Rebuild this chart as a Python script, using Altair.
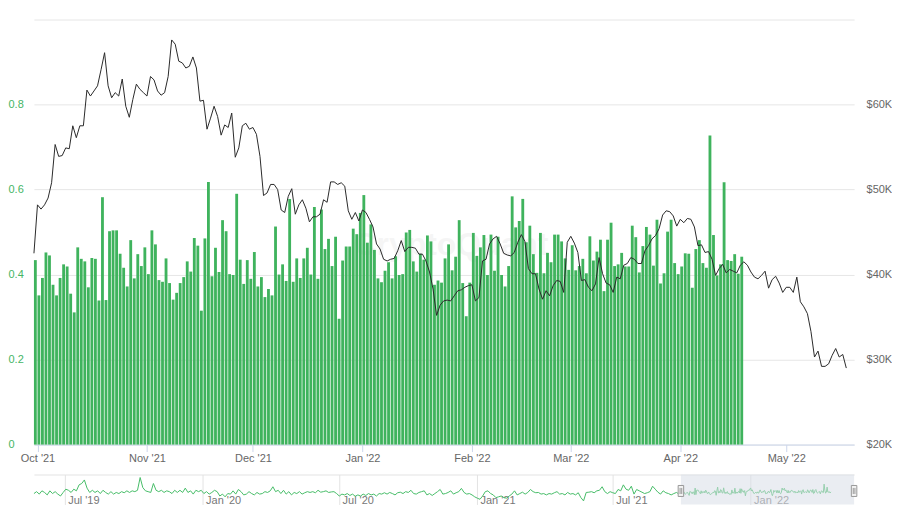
import altair as alt
import pandas as pd

# ---------------- data ----------------
bar_start = "2021-09-30"

# daily ratio (green bars, left axis)
ratio = [
    0.434, 0.351, 0.392, 0.452, 0.445, 0.376, 0.351, 0.392, 0.424, 0.419,
    0.355, 0.311, 0.464, 0.437, 0.431, 0.370, 0.439, 0.437, 0.339, 0.582,
    0.340, 0.502, 0.504, 0.504, 0.449, 0.416, 0.372, 0.481, 0.391, 0.448,
    0.420, 0.464, 0.401, 0.504, 0.471, 0.387, 0.383, 0.438, 0.380, 0.341,
    0.357, 0.380, 0.394, 0.431, 0.407, 0.486, 0.468,
    0.315, 0.485, 0.618, 0.396, 0.463, 0.406, 0.528, 0.502, 0.401, 0.399,
    0.590, 0.435, 0.378, 0.434, 0.390, 0.453, 0.372, 0.394, 0.347, 0.366,
    0.351, 0.513, 0.400, 0.424, 0.385, 0.578, 0.383, 0.438, 0.392, 0.438,
    0.463, 0.400, 0.559, 0.390, 0.553, 0.460, 0.484, 0.420, 0.489, 0.296,
    0.433, 0.466, 0.466, 0.508, 0.495, 0.545, 0.587,
    0.475, 0.518, 0.458, 0.391, 0.382, 0.409, 0.429, 0.391, 0.443, 0.399,
    0.401, 0.499, 0.505, 0.431, 0.407, 0.449, 0.435, 0.492, 0.478, 0.376,
    0.386, 0.381, 0.438, 0.471, 0.410, 0.442, 0.528, 0.380, 0.302, 0.381,
    0.498, 0.444, 0.464, 0.493, 0.399, 0.494, 0.409, 0.489, 0.399, 0.372,
    0.420, 0.584, 0.511, 0.526, 0.578, 0.476,
    0.515, 0.448, 0.404, 0.498, 0.403, 0.451, 0.429, 0.494, 0.494, 0.478,
    0.438, 0.411, 0.469, 0.410, 0.420, 0.437, 0.403, 0.490, 0.433, 0.454,
    0.482, 0.361, 0.482, 0.522, 0.420, 0.424, 0.451, 0.419, 0.419, 0.515,
    0.488, 0.405, 0.467, 0.512, 0.494, 0.421, 0.529, 0.379, 0.403, 0.501,
    0.529, 0.427, 0.401, 0.419, 0.450, 0.449,
    0.369, 0.460, 0.481, 0.427, 0.416, 0.727, 0.493, 0.398, 0.424, 0.617,
    0.434, 0.432, 0.448, 0.402, 0.442,
]

# daily BTC price in thousand USD (black line, right axis)
price_k = [
    42.5, 48.2, 47.7, 48.2, 49.0, 50.8, 55.3, 53.9, 54.0, 54.9,
    54.8, 57.5, 56.1, 57.5, 57.5, 61.7, 61.0, 61.6, 62.2, 64.1,
    66.1, 62.2, 60.8, 61.4, 61.0, 63.0, 59.8, 58.5, 60.6, 62.4,
    61.8, 61.4, 61.0, 63.3, 62.9, 61.6, 61.1, 61.4, 63.3, 67.6,
    67.1, 65.1, 64.9, 64.3, 64.5, 65.6, 64.3,
    60.4, 60.5, 57.1, 58.4, 59.8, 58.6, 56.4, 57.6, 57.3, 59.0,
    53.8, 54.9, 57.5, 57.8, 57.1, 57.3, 56.5, 53.9, 49.3, 49.6,
    50.6, 50.6, 50.0, 47.6, 47.3, 49.2, 50.1, 47.1, 48.2, 48.8,
    47.8, 46.2, 46.8, 46.8, 47.1, 48.8, 48.5, 50.9, 50.9, 50.6,
    50.8, 50.4, 47.5, 46.5, 47.3, 46.3, 47.6,
    47.3, 46.5, 45.6, 43.6, 43.0, 41.8, 41.6, 41.8, 41.9, 42.8,
    44.0, 42.7, 43.2, 43.2, 43.1, 42.4, 42.4, 41.6, 40.3, 38.3,
    35.2, 36.4, 36.9, 37.0, 36.9, 37.5, 38.1, 38.2, 38.5, 38.7,
    38.8, 36.9, 37.3, 41.6, 41.8, 43.6, 44.2, 44.5, 43.6, 42.5,
    42.3, 42.2, 42.6, 43.8, 44.7, 43.9, 40.7,
    40.1, 40.1, 38.3, 37.1, 38.1, 37.5, 38.7, 39.3, 39.2, 37.9,
    43.8, 44.5, 43.7, 42.6, 39.3, 39.4, 38.5, 38.1, 38.9, 42.0,
    40.1, 39.0, 38.8, 37.9, 39.7, 39.5, 41.1, 41.3, 42.0, 41.8,
    41.3, 41.3, 42.8, 43.4, 44.2, 44.6, 45.4, 47.0, 47.5, 47.4,
    46.9, 45.7, 46.5, 46.1, 46.6, 46.5,
    45.6, 43.4, 43.5, 42.6, 42.7, 41.8, 39.9, 40.7, 41.2, 40.2,
    40.6, 40.4, 40.2, 41.1, 41.5, 41.1, 40.3, 39.7, 39.5, 39.9,
    40.4, 38.4, 39.4, 39.8, 39.0, 37.9, 38.5, 38.5, 37.9, 39.7,
    36.8, 36.2, 35.4, 33.3, 30.3, 31.0, 29.2, 29.2, 29.5, 30.5,
    31.3, 30.3, 30.6, 29.0,
]

# navigator: earlier history of the ratio, one value every 85 hours
nav_start = "2019-05-21"
nav_ratio = [
    0.38, 0.45, 0.36, 0.48, 0.42, 0.33, 0.48, 0.38, 0.45, 0.36,
    0.29, 0.42, 0.54, 0.50, 0.42, 0.54, 0.48, 0.70, 0.75, 0.88,
    0.58, 0.42, 0.50, 0.42, 0.48, 0.38, 0.50, 0.42, 0.36, 0.45,
    0.36, 0.42, 0.38, 0.45, 0.41, 0.48, 0.42, 0.48, 0.45, 0.50,
    0.97, 0.60, 0.48, 0.45, 0.42, 0.75, 0.50, 0.45, 0.50, 0.42,
    0.48, 0.45, 0.38, 0.50, 0.42, 0.50, 0.42, 0.58, 0.42, 0.48,
    0.36, 0.50, 0.45, 0.50, 0.38, 0.45, 0.36, 0.42, 0.50, 0.45,
    0.29, 0.36, 0.26, 0.38, 0.36, 0.48, 0.36, 0.53, 0.45, 0.33,
    0.36, 0.45, 0.38, 0.33, 0.42, 0.36, 0.38, 0.45, 0.42, 0.48,
    0.63, 0.45, 0.50, 0.38, 0.50, 0.36, 0.45, 0.33, 0.42, 0.38,
    0.45, 0.36, 0.41, 0.45,
    0.42, 0.45, 0.41, 0.50, 0.43, 0.45, 0.48, 0.42, 0.44, 0.45,
    0.38, 0.29, 0.36, 0.33, 0.38, 0.31, 0.36, 0.28, 0.33, 0.29,
    0.36, 0.31, 0.38, 0.33, 0.36, 0.29, 0.38, 0.36, 0.41, 0.36,
    0.42, 0.38, 0.33, 0.41, 0.43, 0.38, 0.45, 0.42, 0.50, 0.38,
    0.36, 0.42, 0.45, 0.48, 0.33, 0.38, 0.31, 0.38, 0.45, 0.53,
    0.36, 0.38, 0.42, 0.48, 0.36, 0.41, 0.45, 0.57, 0.42, 0.36,
    0.38, 0.33, 0.26, 0.21, 0.17, 0.29, 0.45, 0.48, 0.38, 0.33,
    0.23, 0.26, 0.29, 0.23, 0.21, 0.29, 0.36, 0.48, 0.33, 0.38,
    0.43, 0.36, 0.42, 0.53, 0.45, 0.41, 0.42, 0.36, 0.38, 0.33,
    0.38, 0.36, 0.41, 0.45, 0.36, 0.38, 0.33, 0.42, 0.36, 0.38,
    0.33, 0.41, 0.23, 0.11,
    0.42, 0.43, 0.45, 0.41, 0.48, 0.50, 0.63, 0.45, 0.38, 0.45,
    0.41, 0.38, 0.53, 0.48, 0.70, 0.54, 0.50, 0.65, 0.36, 0.53,
    0.48, 0.43, 0.38, 0.41, 0.45, 0.65, 0.54, 0.43, 0.36, 0.48,
    0.41, 0.38, 0.33, 0.38, 0.42, 0.36,
]

month_ticks = [(2021, 10), (2021, 11), (2021, 12), (2022, 1),
               (2022, 2), (2022, 3), (2022, 4), (2022, 5)]
nav_ticks = [(2019, 7), (2020, 1), (2020, 7), (2021, 1), (2021, 7), (2022, 1)]
left_ticks = [0, 0.2, 0.4, 0.6, 0.8, 1.0]
right_ticks = [20000, 30000, 40000, 50000, 60000, 70000]

# ---------------- tables ----------------
dates = pd.date_range(bar_start, periods=len(ratio), freq="D")
bars_df = pd.DataFrame({"date": dates,
                        "date_end": dates + pd.Timedelta(days=1),
                        "ratio": ratio})
price_df = pd.DataFrame({"date": pd.date_range(bar_start, periods=len(price_k), freq="D"),
                         "price": [p * 1000 for p in price_k]})
nav_dates = pd.date_range(nav_start, periods=len(nav_ratio), freq="85h")
nav_df = pd.DataFrame({"date": list(nav_dates) + list(dates),
                       "ratio": nav_ratio + ratio})
sel_df = pd.DataFrame({"start": [pd.Timestamp(bar_start)],
                       "end": [pd.Timestamp("2022-05-19")]})
handle_df = pd.DataFrame({"date": [pd.Timestamp(bar_start), pd.Timestamp("2022-05-19")]})
wm_df = pd.DataFrame({"t": ["CryptoQuant"]})

def dt(y, m, d=1, h=0):
    return alt.DateTime(year=y, month=m, date=d, hours=h)

GREEN = "#3fb35d"
FONT = "Liberation Sans"
W = 822

x_scale = alt.Scale(domain=[dt(2021, 9, 30), dt(2022, 5, 20, 5)])

wm = alt.Chart(wm_df).mark_text(fontSize=32, font=FONT, fontWeight="bold",
                                color="#000000", opacity=0.035).encode(
    x=alt.value(418), y=alt.value(226), text="t:N")

bars = alt.Chart(bars_df).mark_bar(color=GREEN, x2Offset=-0.7).encode(
    x=alt.X("date:T", scale=x_scale,
            axis=alt.Axis(values=[dt(y, m) for y, m in month_ticks], format="%b '%y",
                          title=None, grid=False, domain=True, domainColor="#ccd6eb",
                          ticks=True, tickColor="#ccd6eb", tickSize=7, labelPadding=1,
                          labelColor="#666666", labelFontSize=11, labelFont=FONT,
                          labelFlush=False)),
    x2="date_end:T",
    y=alt.Y("ratio:Q", scale=alt.Scale(domain=[0, 1], nice=False),
            axis=alt.Axis(orient="left", values=left_ticks, title=None, grid=True,
                          gridColor="#e6e6e6", domain=False, ticks=False, tickSize=0,
                          labelAlign="left", labelPadding=26, labelColor="#45b565",
                          labelFontSize=11, labelFont=FONT, labelFlush=False,
                          labelExpr="datum.value >= 1 ? '' : format(datum.value, '.1~f')")),
    y2=alt.datum(0),
)

line = alt.Chart(price_df).mark_line(color="#2a2a2a", strokeWidth=1).encode(
    x=alt.X("date:T", scale=x_scale),
    y=alt.Y("price:Q", scale=alt.Scale(domain=[20000, 70000], nice=False),
            axis=alt.Axis(orient="right", values=right_ticks, title=None, grid=False,
                          domain=False, ticks=False, tickSize=0, labelAlign="left",
                          labelPadding=12, labelColor="#666666", labelFontSize=11,
                          labelFont=FONT, labelFlush=False,
                          labelExpr="datum.value >= 70000 ? '' : '$' + (datum.value / 1000) + 'K'")),
)

main = alt.layer(wm, bars, line).resolve_scale(y="independent").properties(width=W, height=426)

nav_scale = alt.Scale(domain=[dt(2019, 5, 21), dt(2022, 5, 19)])
NAV_H = 30

nav_line = alt.Chart(nav_df).mark_line(color="#47bd68", strokeWidth=1).encode(
    x=alt.X("date:T", scale=nav_scale,
            axis=alt.Axis(orient="top", values=[dt(y, m) for y, m in nav_ticks],
                          format="%b '%y", title=None, grid=True, gridColor="#e3e3e3",
                          domain=True, domainColor="#e3e3e3", ticks=False, tickSize=0,
                          labelAlign="left", labelBaseline="alphabetic", labelPadding=-29,
                          labelOffset=3, labelColor="#777777", labelFontSize=11,
                          labelFont=FONT, labelFlush=False, labelOverlap=False)),
    y=alt.Y("ratio:Q", scale=alt.Scale(domain=[-0.02, 1.08], nice=False), axis=None),
)

mask = alt.Chart(sel_df).mark_rect(fill="#d9dee8", opacity=0.55).encode(
    x=alt.X("start:T", scale=nav_scale), x2="end:T",
    y=alt.value(0), y2=alt.value(NAV_H))

handle_path = "M-0.5,-1H0.5V1H-0.5Z M-0.15,-0.55V0.55 M0.15,-0.55V0.55"
handles = alt.Chart(handle_df).mark_point(shape=handle_path, size=121, filled=True,
                                          fill="#f2f2f2", stroke="#999999",
                                          strokeWidth=1, opacity=1).encode(
    x=alt.X("date:T", scale=nav_scale), y=alt.value(16.5))

nav = alt.layer(nav_line, mask, handles).properties(width=W, height=NAV_H)

chart = alt.vconcat(main, nav, spacing=11).properties(
    padding={"left": 0, "top": 11, "right": 0, "bottom": 0},
    background="white",
).configure_view(stroke=None)

chart.save("out.html", embed_options={"renderer": "svg", "actions": False})
